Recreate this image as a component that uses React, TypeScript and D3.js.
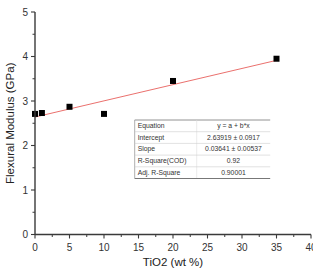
import React from "react";
import * as d3 from "d3";

const tio2 = [0, 1, 5, 10, 20, 35];
const modulus = [2.71, 2.73, 2.87, 2.71, 3.45, 3.95];
const xTicks = [0, 5, 10, 15, 20, 25, 30, 35, 40];
const yTicks = [0, 1, 2, 3, 4, 5];
const intercept = 2.63919;
const slope = 0.03641;
const fitRows = [
  ["Equation", "y = a + b*x"],
  ["Intercept", "2.63919 \u00b1 0.0917"],
  ["Slope", "0.03641 \u00b1 0.00537"],
  ["R-Square(COD)", "0.92"],
  ["Adj. R-Square", "0.90001"],
];

const W = 313;
const H = 269;
const m = { left: 35, right: 2, top: 12, bottom: 34.5 };

export default function App() {
  const x = d3.scaleLinear().domain([0, 40]).range([m.left, W - m.right]);
  const y = d3.scaleLinear().domain([0, 5]).range([H - m.bottom, m.top]);
  const font = "Liberation Sans, Arial, sans-serif";
  const axisColor = "#3a3a3a";
  const fitLine = d3.line<number>().x((d) => x(d)).y((d) => y(intercept + slope * d));
  const xMinor = d3.range(2.5, 40, 5);
  const yMinor = d3.range(0.5, 5, 1);

  const tx = 134.7;
  const ty = 120;
  const tw = 135.5;
  const rh = 11.7;
  const colX = 196.7;

  return (
    <svg width={W} height={H} style={{ position: "absolute", left: 0, top: 0 }}>
      <rect width={W} height={H} fill="#fff" />
      {/* fit line */}
      <path d={fitLine([0, 35]) || ""} stroke="#e8605c" strokeWidth={0.9} fill="none" />
      {/* data points */}
      {tio2.map((t, i) => (
        <rect key={i} x={x(t) - 3} y={y(modulus[i]) - 3} width={6} height={6} fill="#000" />
      ))}
      {/* axes */}
      <line x1={m.left} x2={m.left} y1={y(5)} y2={y(0)} stroke={axisColor} strokeWidth={1.4} />
      <line x1={m.left} x2={x(40)} y1={y(0)} y2={y(0)} stroke={axisColor} strokeWidth={1.4} />
      {yTicks.map((t) => (
        <g key={"y" + t}>
          <line x1={m.left - 4} x2={m.left} y1={y(t)} y2={y(t)} stroke={axisColor} strokeWidth={1.1} />
          <text x={m.left - 7} y={y(t) + 3.5} fontSize={10} fontFamily={font} textAnchor="end" fill="#333">
            {t}
          </text>
        </g>
      ))}
      {yMinor.map((t) => (
        <line key={"ym" + t} x1={m.left - 2.5} x2={m.left} y1={y(t)} y2={y(t)} stroke={axisColor} strokeWidth={1} />
      ))}
      {xTicks.map((t) => (
        <g key={"x" + t}>
          <line x1={x(t)} x2={x(t)} y1={y(0)} y2={y(0) + 4} stroke={axisColor} strokeWidth={1.1} />
          <text x={x(t)} y={y(0) + 16} fontSize={10} fontFamily={font} textAnchor="middle" fill="#333">
            {t}
          </text>
        </g>
      ))}
      {xMinor.map((t) => (
        <line key={"xm" + t} x1={x(t)} x2={x(t)} y1={y(0)} y2={y(0) + 2.5} stroke={axisColor} strokeWidth={1} />
      ))}
      <text x={173} y={266} fontSize={11.5} fontFamily={font} textAnchor="middle" fill="#222">
        TiO2 (wt %)
      </text>
      <text
        transform={`translate(14,${(y(0) + y(5)) / 2}) rotate(-90)`}
        fontSize={11.5}
        fontFamily={font}
        textAnchor="middle"
        fill="#222"
      >
        Flexural Modulus (GPa)
      </text>
      {/* fit table */}
      <g fontFamily={font} fontSize={6.8} fill="#333">
        <rect x={tx} y={ty} width={tw} height={rh * 5} fill="#fff" />
        <line x1={tx} x2={tx + tw} y1={ty} y2={ty} stroke="#777" strokeWidth={0.8} />
        <line x1={tx} x2={tx} y1={ty} y2={ty + rh * 5} stroke="#999" strokeWidth={0.8} />
        <line x1={colX} x2={colX} y1={ty} y2={ty + rh * 5} stroke="#ddd" strokeWidth={0.6} />
        {fitRows.map((r, i) => (
          <g key={r[0]}>
            {i > 0 && (
              <line x1={tx} x2={tx + tw} y1={ty + rh * i} y2={ty + rh * i} stroke="#ccc" strokeWidth={0.6} />
            )}
            <text x={tx + 3} y={ty + rh * i + 8}>{r[0]}</text>
            <text x={(colX + tx + tw) / 2} y={ty + rh * i + 8} textAnchor="middle">{r[1]}</text>
          </g>
        ))}
        <line x1={tx} x2={tx + tw} y1={ty + rh * 5} y2={ty + rh * 5} stroke="#777" strokeWidth={1} />
      </g>
    </svg>
  );
}
